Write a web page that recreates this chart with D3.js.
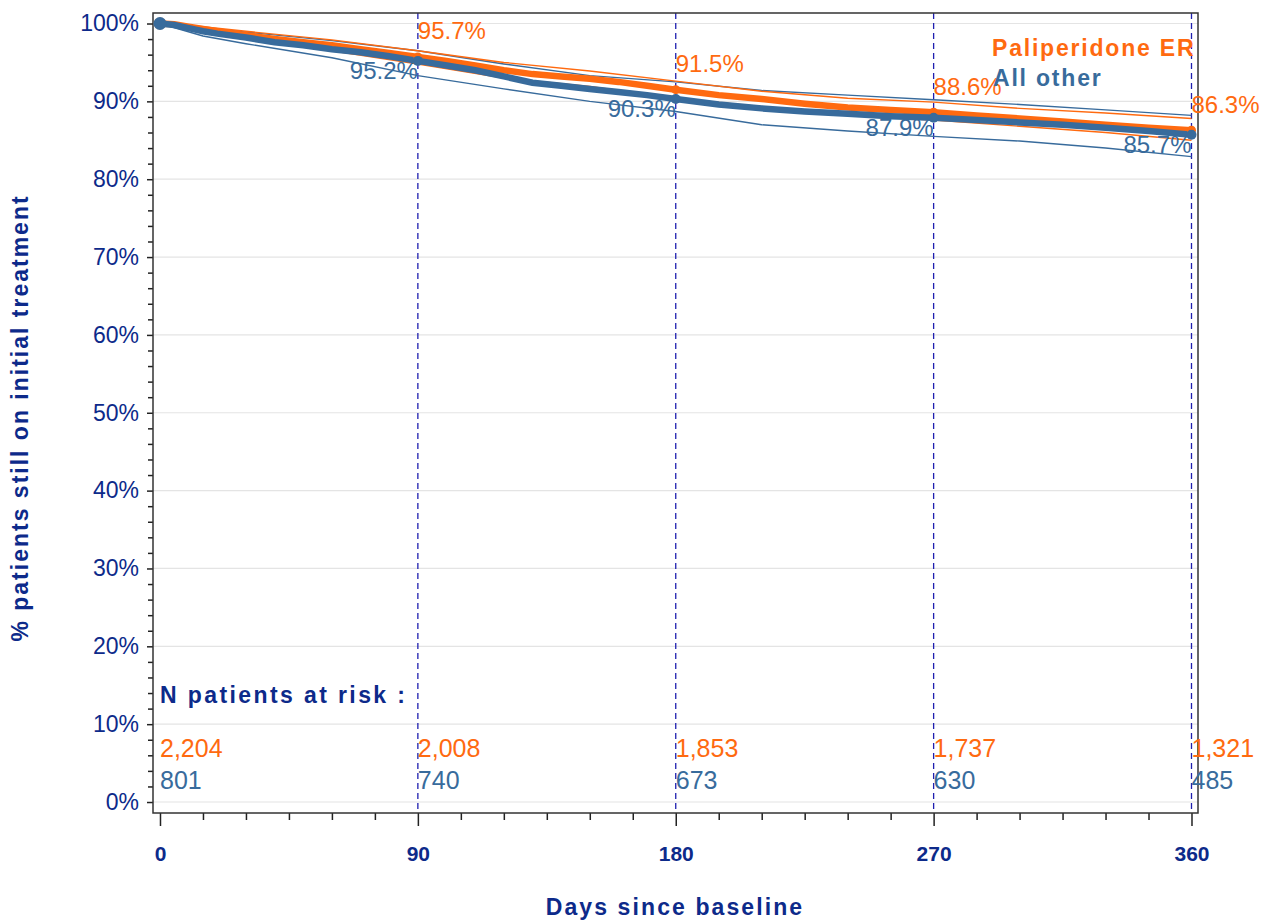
<!DOCTYPE html>
<html>
<head>
<meta charset="utf-8">
<script src="https://cdn.jsdelivr.net/npm/d3@7"></script>
<style>
  body { margin: 0; background: #fff; }
  text { font-family: "Liberation Sans", Arial, sans-serif; }
</style>
</head>
<body>
<div id="chart"></div>
<script>
const w = 1268;
const h = 921;

// survival estimates (%)
const days = [0, 5, 10, 15, 20, 30, 40, 50, 60, 70, 80, 90, 100, 110, 120, 130, 140, 150, 160, 170, 180,
              195, 210, 225, 240, 255, 270, 285, 300, 315, 330, 345, 360];
const palSurv = [100, 99.9, 99.6, 99.3, 99.0, 98.5, 98.0, 97.6, 97.2, 96.7, 96.2, 95.7, 95.2, 94.6, 94.0, 93.5, 93.2, 92.9, 92.5, 92.0, 91.5,
                 90.8, 90.3, 89.7, 89.2, 88.9, 88.6, 88.2, 87.8, 87.4, 87.0, 86.6, 86.3];
const othSurv = [100, 99.8, 99.4, 99.0, 98.7, 98.2, 97.6, 97.2, 96.7, 96.3, 95.8, 95.2, 94.6, 94.0, 93.2, 92.4, 92.0, 91.6, 91.2, 90.8, 90.3,
                 89.6, 89.1, 88.7, 88.4, 88.1, 87.9, 87.6, 87.3, 87.0, 86.6, 86.2, 85.7];

// confidence bands
const ciDays = [0, 15, 30, 60, 90, 120, 150, 180, 210, 240, 270, 300, 330, 360];
const palUpper = [100, 99.6, 99.0, 97.9, 96.5, 95.0, 93.9, 92.6, 91.3, 90.4, 89.9, 89.1, 88.5, 87.8];
const palLower = [100, 99.0, 98.0, 96.5, 94.8, 93.0, 91.9, 90.4, 89.3, 88.2, 87.6, 86.8, 86.0, 85.0];
const othUpper = [100, 99.5, 98.9, 97.8, 96.5, 94.8, 93.3, 92.5, 91.4, 90.8, 90.2, 89.6, 88.9, 88.2];
const othLower = [100, 98.4, 97.4, 95.6, 93.3, 91.6, 90.0, 88.7, 87.0, 86.2, 85.5, 84.9, 84.0, 82.9];

// labelled time points
const timePoints = [0, 90, 180, 270, 360];
const palPctLabels = ["", "95.7%", "91.5%", "88.6%", "86.3%"];
const othPctLabels = ["", "95.2%", "90.3%", "87.9%", "85.7%"];
const palAtRisk = ["2,204", "2,008", "1,853", "1,737", "1,321"];
const othAtRisk = ["801", "740", "673", "630", "485"];

const yTicks = [0, 10, 20, 30, 40, 50, 60, 70, 80, 90, 100];
const xTicks = [0, 90, 180, 270, 360];

const orange = "#ff6a10";
const blue = "#386b9c";
const navy = "#0d2a8a";

const svg = d3.select("#chart")
    .append("svg")
    .attr("width", w)
    .attr("height", h);

const x = d3.scaleLinear().domain([-2.44, 362.27]).range([153, 1198]);
const y = d3.scaleLinear().domain([-1.41, 101.35]).range([813, 13]);

// grid lines
svg.append("g")
    .selectAll("line")
    .data(yTicks)
    .enter()
    .append("line")
    .attr("x1", 153).attr("x2", 1198)
    .attr("y1", d => y(d)).attr("y2", d => y(d))
    .attr("stroke", "#e4e4e4")
    .attr("stroke-width", 1.2);

// dashed verticals at time points
svg.append("g")
    .selectAll("line")
    .data(timePoints.slice(1))
    .enter()
    .append("line")
    .attr("x1", d => x(d)).attr("x2", d => x(d))
    .attr("y1", 13).attr("y2", 813)
    .attr("stroke", "#1f1fb0")
    .attr("stroke-width", 1.3)
    .attr("stroke-dasharray", "6,4");

// axes
const yAxis = svg.append("g")
    .attr("transform", "translate(153,0)")
    .call(d3.axisLeft(y).tickValues(yTicks).tickFormat(d => d + "%").tickSize(6).tickPadding(8));
svg.append("g")
    .attr("transform", "translate(153,0)")
    .call(d3.axisLeft(y).tickValues(d3.range(0, 101, 2).filter(d => d % 10 != 0)).tickFormat("").tickSize(5))
    .select(".domain").remove();

const xAxis = svg.append("g")
    .attr("transform", "translate(0,813)")
    .call(d3.axisBottom(x).tickValues(xTicks).tickSize(13).tickPadding(20));
svg.append("g")
    .attr("transform", "translate(0,813)")
    .call(d3.axisBottom(x).tickValues(d3.range(0, 361, 15).filter(d => d % 90 != 0)).tickFormat("").tickSize(7))
    .select(".domain").remove();

svg.selectAll(".tick line").attr("stroke", "#222").attr("stroke-width", 1.5);
svg.selectAll(".domain").attr("stroke", "none");

yAxis.selectAll("text")
    .attr("font-size", 23)
    .attr("fill", navy);
xAxis.selectAll("text")
    .attr("font-size", 21)
    .attr("font-weight", "bold")
    .attr("fill", navy);

// frame
svg.append("rect")
    .attr("x", 153).attr("y", 13)
    .attr("width", 1045).attr("height", 800)
    .attr("fill", "none")
    .attr("stroke", "#333")
    .attr("stroke-width", 1.5);

// curves
const line = d3.line()
    .x(d => x(d[0]))
    .y(d => y(d[1]));

function series(xs, ys) {
    return xs.map((d, i) => [d, ys[i]]);
}

const thin = [
    [othUpper, blue], [othLower, blue], [palUpper, orange], [palLower, orange]
];
thin.forEach(function(t) {
    svg.append("path")
        .attr("d", line(series(ciDays, t[0])))
        .attr("fill", "none")
        .attr("stroke", t[1])
        .attr("stroke-width", 1.4);
});

svg.append("path")
    .attr("d", line(series(days, palSurv)))
    .attr("fill", "none")
    .attr("stroke", orange)
    .attr("stroke-width", 6.5);

svg.append("path")
    .attr("d", line(series(days, othSurv)))
    .attr("fill", "none")
    .attr("stroke", blue)
    .attr("stroke-width", 6.5);

// markers at time points
timePoints.forEach(function(t, i) {
    var k = days.indexOf(t);
    svg.append("circle")
        .attr("cx", x(t)).attr("cy", y(palSurv[k]))
        .attr("r", i == 0 ? 6 : 4.5)
        .attr("fill", orange);
    svg.append("circle")
        .attr("cx", x(t)).attr("cy", y(othSurv[k]))
        .attr("r", i == 0 ? 6.5 : 5)
        .attr("fill", blue);
});

// percentage labels
timePoints.forEach(function(t, i) {
    var k = days.indexOf(t);
    if (palPctLabels[i]) {
        svg.append("text")
            .attr("x", x(t)).attr("y", y(palSurv[k]) - 26)
            .attr("dy", "0.35em")
            .attr("font-size", 24)
            .attr("fill", orange)
            .text(palPctLabels[i]);
    }
    if (othPctLabels[i]) {
        svg.append("text")
            .attr("x", x(t)).attr("y", y(othSurv[k]) + 10)
            .attr("dy", "0.35em")
            .attr("text-anchor", "end")
            .attr("font-size", 24)
            .attr("fill", blue)
            .text(othPctLabels[i]);
    }
});

// patients at risk
svg.append("text")
    .attr("x", 160).attr("y", 695)
    .attr("dy", "0.35em")
    .attr("font-size", 23)
    .attr("font-weight", "bold")
    .attr("letter-spacing", 2.4)
    .attr("fill", navy)
    .text("N patients at risk :");

timePoints.forEach(function(t, i) {
    svg.append("text")
        .attr("x", x(t)).attr("y", 748)
        .attr("dy", "0.35em")
        .attr("font-size", 25)
        .attr("fill", orange)
        .text(palAtRisk[i]);
    svg.append("text")
        .attr("x", x(t)).attr("y", 780)
        .attr("dy", "0.35em")
        .attr("font-size", 25)
        .attr("fill", blue)
        .text(othAtRisk[i]);
});

// legend
svg.append("text")
    .attr("x", 992).attr("y", 48)
    .attr("dy", "0.35em")
    .attr("font-size", 23)
    .attr("font-weight", "bold")
    .attr("letter-spacing", 1.8)
    .attr("fill", orange)
    .text("Paliperidone ER");
svg.append("text")
    .attr("x", 993).attr("y", 78)
    .attr("dy", "0.35em")
    .attr("font-size", 23)
    .attr("font-weight", "bold")
    .attr("letter-spacing", 1.8)
    .attr("fill", blue)
    .text("All other");

// axis titles
svg.append("text")
    .attr("x", 675).attr("y", 907)
    .attr("dy", "0.35em")
    .attr("text-anchor", "middle")
    .attr("font-size", 23)
    .attr("font-weight", "bold")
    .attr("letter-spacing", 2.1)
    .attr("fill", navy)
    .text("Days since baseline");

svg.append("text")
    .attr("transform", "translate(20,418) rotate(-90)")
    .attr("dy", "0.35em")
    .attr("text-anchor", "middle")
    .attr("font-size", 23)
    .attr("font-weight", "bold")
    .attr("letter-spacing", 2)
    .attr("fill", navy)
    .text("% patients still on initial treatment");
</script>
</body>
</html>
